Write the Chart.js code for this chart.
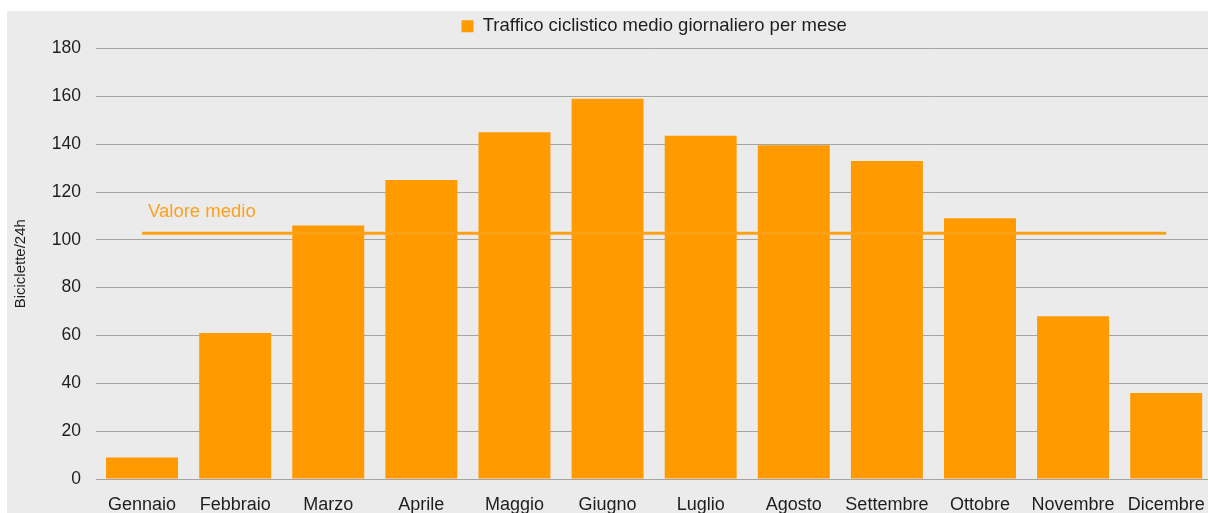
<!DOCTYPE html>
<html>
<head>
<meta charset="utf-8">
<script src="https://cdn.jsdelivr.net/npm/chart.js@4.4.0/dist/chart.umd.min.js"></script>
<style>
    html, body { margin: 0; padding: 0; background: #fff; overflow: hidden; }
    #wrap {
        position: absolute;
        left: 7px;
        top: 11px;
        width: 1213px;
        height: 520px;
        background: #ebebeb;
    }
</style>
</head>
<body>
<div id="wrap"><canvas id="chart"></canvas></div>
<script>
// Data
const months = ['Gennaio', 'Febbraio', 'Marzo', 'Aprile', 'Maggio', 'Giugno',
    'Luglio', 'Agosto', 'Settembre', 'Ottobre', 'Novembre', 'Dicembre'];
const trafficValues = [9, 61, 106, 125, 145, 159, 143.5, 139.5, 133, 109, 68, 36];
const averageValue = 102.8;
const averageLine = months.map(() => averageValue);
const yTicks = [0, 20, 40, 60, 80, 100, 120, 140, 160, 180];

const FONT = '"Liberation Sans", Arial, sans-serif';
const BAR_COLOR = '#ff9a00';
const LINE_COLOR = '#fba21a';
const TEXT_COLOR = '#1e1e1e';

// Label for the average line
const averageLabel = {
    id: 'averageLabel',
    afterDatasetsDraw(chart) {
        const x = chart.scales.x;
        const y = chart.scales.y;
        const ctx = chart.ctx;
        ctx.save();
        ctx.font = '18.5px ' + FONT;
        ctx.fillStyle = LINE_COLOR;
        ctx.textAlign = 'left';
        ctx.textBaseline = 'middle';
        ctx.fillText('Valore medio', x.getPixelForValue(0) + 6, y.getPixelForValue(averageValue) - 21);
        ctx.restore();
    }
};

// Extra space under the legend
const legendMargin = {
    id: 'legendMargin',
    beforeInit(chart) {
        const fit = chart.legend.fit;
        chart.legend.fit = function () {
            fit.bind(chart.legend)();
            this.height += 3;
        };
    }
};

document.addEventListener('DOMContentLoaded', () => {
    const ctx = document.getElementById('chart').getContext('2d');
    new Chart(ctx, {
        data: {
            labels: months,
            datasets: [{
                type: 'line',
                label: 'Valore medio',
                data: averageLine,
                borderColor: LINE_COLOR,
                borderWidth: 3,
                pointRadius: 0,
                fill: false,
                order: 0
            }, {
                type: 'bar',
                label: 'Traffico ciclistico medio giornaliero per mese',
                data: trafficValues,
                backgroundColor: BAR_COLOR,
                barPercentage: 0.773,
                categoryPercentage: 1,
                order: 1
            }]
        },
        options: {
            responsive: true,
            maintainAspectRatio: false,
            animation: false,
            layout: { padding: { left: 5, right: 7, top: 0, bottom: 0 } },
            plugins: {
                tooltip: { enabled: false },
                legend: {
                    position: 'top',
                    fullSize: false,
                    labels: {
                        filter: item => item.datasetIndex === 1,
                        boxWidth: 12,
                        boxHeight: 12,
                        padding: 6,
                        color: TEXT_COLOR,
                        font: { family: FONT, size: 18.5 }
                    }
                }
            },
            scales: {
                x: {
                    afterFit: scale => { scale.height = 52; },
                    grid: { display: false, drawTicks: false },
                    border: { display: false },
                    ticks: {
                        color: TEXT_COLOR,
                        font: { family: FONT, size: 18 },
                        padding: 15,
                        maxRotation: 0,
                        autoSkip: false
                    }
                },
                y: {
                    min: 0,
                    max: 180,
                    afterFit: scale => { scale.width = 83.5; },
                    afterBuildTicks: scale => {
                        scale.ticks = yTicks.map(v => ({ value: v }));
                    },
                    grid: { color: '#a4a4a4', drawTicks: false },
                    border: { display: false },
                    ticks: {
                        color: TEXT_COLOR,
                        font: { family: FONT, size: 17.5 },
                        padding: 14.5
                    },
                    title: {
                        display: true,
                        text: 'Biciclette/24h',
                        color: TEXT_COLOR,
                        font: { family: FONT, size: 15 },
                        padding: { top: 0, bottom: 0 }
                    }
                }
            }
        },
        plugins: [averageLabel, legendMargin]
    });
});
</script>
</body>
</html>
